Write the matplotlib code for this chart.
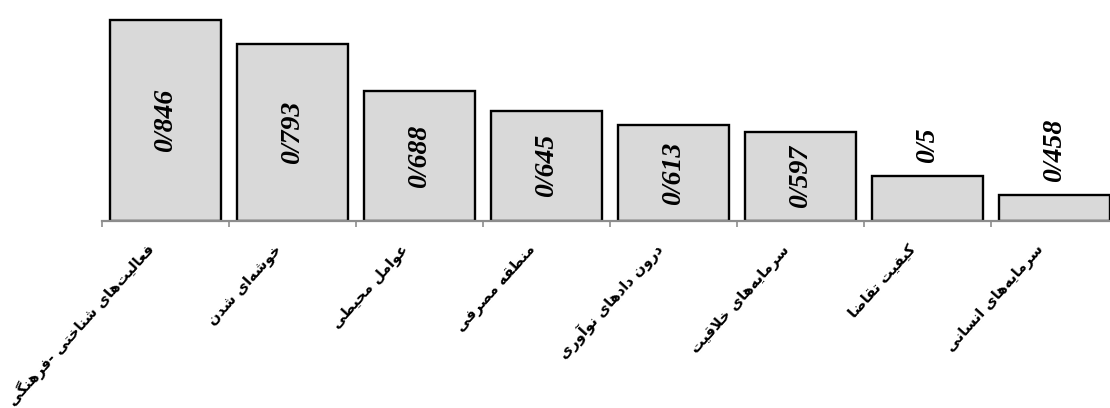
import matplotlib
matplotlib.use('Agg')
import matplotlib.pyplot as plt
import matplotlib.transforms as mtransforms

# data (Persian decimal written with "/")
categories = ['فعالیت‌های شناختی -فرهنگی', 'خوشه‌ای شدن', 'عوامل محیطی', 'منطقه مصرفی',
              'درون دادهای نوآوری', 'سرمایه‌های خلاقیت', 'کیفیت تقاضا', 'سرمایه‌های انسانی']
values = [0.846, 0.793, 0.688, 0.645, 0.613, 0.597, 0.5, 0.458]

# matplotlib does no Arabic shaping, so pick presentation forms by hand
# (isolated, final, initial, medial)
FORMS = {
    'ا': ('\uFE8D', '\uFE8E', None, None),
    'آ': ('\uFE81', '\uFE82', None, None),
    'ت': ('\uFE95', '\uFE96', '\uFE97', '\uFE98'),
    'ح': ('\uFEA1', '\uFEA2', '\uFEA3', '\uFEA4'),
    'خ': ('\uFEA5', '\uFEA6', '\uFEA7', '\uFEA8'),
    'د': ('\uFEA9', '\uFEAA', None, None),
    'ر': ('\uFEAD', '\uFEAE', None, None),
    'س': ('\uFEB1', '\uFEB2', '\uFEB3', '\uFEB4'),
    'ش': ('\uFEB5', '\uFEB6', '\uFEB7', '\uFEB8'),
    'ص': ('\uFEB9', '\uFEBA', '\uFEBB', '\uFEBC'),
    'ض': ('\uFEBD', '\uFEBE', '\uFEBF', '\uFEC0'),
    'ط': ('\uFEC1', '\uFEC2', '\uFEC3', '\uFEC4'),
    'ع': ('\uFEC9', '\uFECA', '\uFECB', '\uFECC'),
    'ف': ('\uFED1', '\uFED2', '\uFED3', '\uFED4'),
    'ق': ('\uFED5', '\uFED6', '\uFED7', '\uFED8'),
    'ل': ('\uFEDD', '\uFEDE', '\uFEDF', '\uFEE0'),
    'م': ('\uFEE1', '\uFEE2', '\uFEE3', '\uFEE4'),
    'ن': ('\uFEE5', '\uFEE6', '\uFEE7', '\uFEE8'),
    'ه': ('\uFEE9', '\uFEEA', '\uFEEB', '\uFEEC'),
    'و': ('\uFEED', '\uFEEE', None, None),
    'ی': ('\uFBFC', '\uFBFD', '\uFBFE', '\uFBFF'),
    'ک': ('\uFB8E', '\uFB8F', '\uFB90', '\uFB91'),
    'گ': ('\uFB92', '\uFB93', '\uFB94', '\uFB95'),
}
LAM_ALEF = {'ا': ('\uFEFB', '\uFEFC'), 'آ': ('\uFEF5', '\uFEF6')}


def dual(c):
    return c in FORMS and FORMS[c][2] is not None


def shape(s):
    out = []
    i = 0
    while i < len(s):
        c = s[i]
        if c not in FORMS:
            if c != '\u200c':
                out.append(c)
            i += 1
            continue
        link_prev = i > 0 and dual(s[i - 1])
        if c == 'ل' and i + 1 < len(s) and s[i + 1] in LAM_ALEF:
            out.append(LAM_ALEF[s[i + 1]][1 if link_prev else 0])
            i += 2
            continue
        nxt = s[i + 1] if i + 1 < len(s) else ''
        link_next = dual(c) and nxt in FORMS
        iso, fin, ini, med = FORMS[c]
        if link_prev and link_next:
            out.append(med)
        elif link_prev:
            out.append(fin)
        elif link_next:
            out.append(ini)
        else:
            out.append(iso)
        i += 1
    return ''.join(reversed(out))


fig = plt.figure(figsize=(11.1, 4.08), dpi=100)
ax = fig.add_axes([102 / 1110, (408 - 221) / 408, 1016 / 1110, 225.5 / 408])

x = list(range(len(values)))
ax.bar(x, [v - 0.4 for v in values], bottom=0.4, width=0.88,
       color='#d9d9d9', edgecolor='black', linewidth=1.7)

ax.set_xlim(-0.5, len(values) - 0.5)
ax.set_ylim(0.4, 0.9)

for s in ['left', 'right', 'top']:
    ax.spines[s].set_visible(False)
ax.spines['bottom'].set_color('#8c8c8c')
ax.spines['bottom'].set_linewidth(1.6)
ax.set_yticks([])
ax.set_xticks([i - 0.5 for i in range(len(values) + 1)])
ax.set_xticklabels([])
ax.tick_params(axis='x', length=4, width=1.2, color='#8c8c8c')

# value labels
for xi, v in zip(x, values):
    txt = f'{v:g}'.replace('.', '/')
    if v > 0.55:
        ax.text(xi, (0.4 + v) / 2, txt, rotation=90, ha='center', va='center',
                family='Liberation Serif', fontsize=20, fontweight='bold', style='italic')
    else:
        ax.annotate(txt, (xi, v), xytext=(0, 9), textcoords='offset points',
                    rotation=90, ha='center', va='bottom',
                    family='Liberation Serif', fontsize=20, fontweight='bold', style='italic')

# category labels, rotated
trans = mtransforms.blended_transform_factory(ax.transData, ax.transAxes)
for xi, c in zip(x, categories):
    ax.text(xi - 0.11, -0.115, shape(c), transform=trans, rotation=48,
            rotation_mode='anchor', ha='right', va='center',
            family=['DejaVu Sans'], fontsize=10.5, fontweight='bold')

fig.savefig('out.png', dpi=100)
